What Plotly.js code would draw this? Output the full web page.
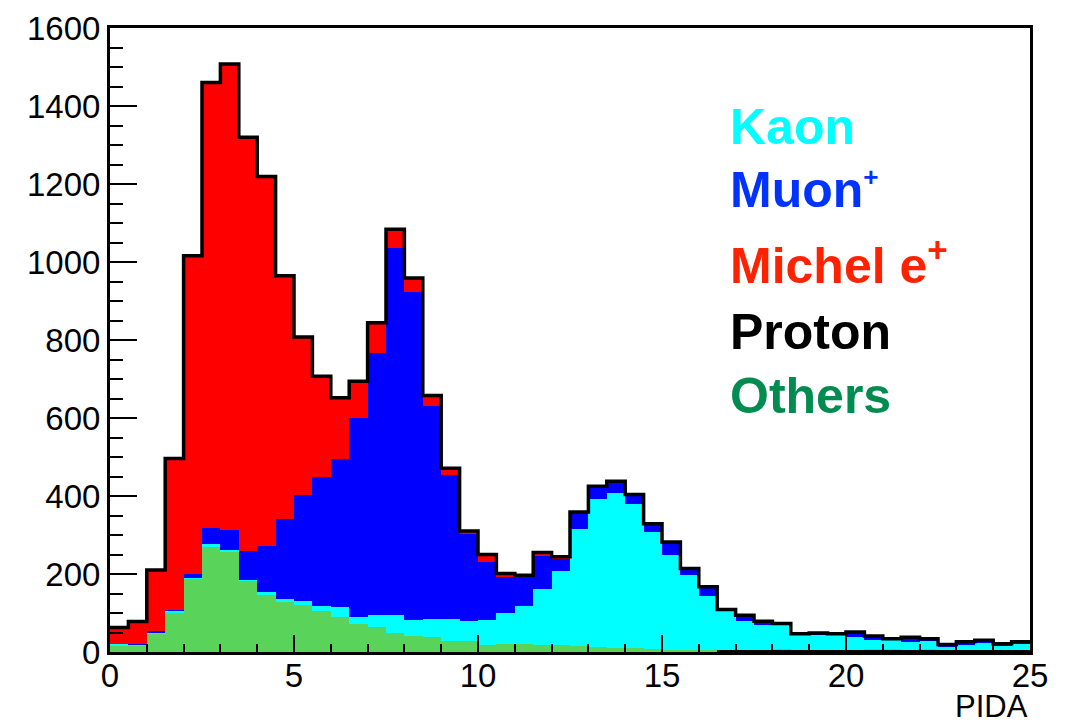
<!DOCTYPE html>
<html>
<head>
<meta charset="utf-8">
<script src="https://cdn.plot.ly/plotly-3.0.1.min.js"></script>
<style>html,body{margin:0;padding:0;background:#fff;}#chart{width:1065px;height:727px;}</style>
</head>
<body>
<div id="chart"></div>
<script>
// PIDA histogram: 50 bins of width 0.5 from 0 to 25
const binStart = 0;
const binWidth = 0.5;
const nBins = 50;

const proton = [0,0,0,0,0,0,0,0,0,0, 0,0,0,0,0,0,0,0,0,0, 0,0,0,0,0,1,1,1,1,1, 1,1,1,4,4,5,6,4,5,4, 5,6,6,5,6,4,5,5,4,5];
const others = [15,15,45,101,187,270,256,181,147,129, 121,104,91,73,63,50,42,38,28,27, 18,21,21,19,17,14,12,9,8,6, 5,4,4,2,2,1,1,1,1,1, 1,1,1,1,1,1,1,1,1,1];
const kaon   = [5,4,5,4,3,8,6,4,6,7, 9,13,24,18,31,45,41,46,57,52, 63,80,96,143,190,301,380,398,371,301, 244,192,138,99,73,62,61,38,38,39, 32,25,23,20,20,8,13,18,10,15];
const muon   = [1,1,4,3,10,39,51,74,119,204, 272,332,381,510,672,940,841,547,369,224, 150,91,78,83,32,40,30,26,22,20, 29,13,22,3,12,9,3,3,3,2, 11,7,3,10,5,4,5,4,4,3];
const michel = [42,58,156,388,816,1143,1195,1061,947,625, 406,258,156,93,78,49,35,27,17,7, 19,9,2,10,5,3,2,4,2,1, 3,4,2,1,3,2,2,1,2,1, 2,2,1,2,2,2,2,2,2,2];

const legendLabels = [
  "Kaon",
  "Muon<sup><span style=\"font-size:26px\">+</span></sup>",
  "Michel e<sup>+</sup>",
  "Proton",
  "Others"
];
const legendColors = ["#00ffff", "#0033ff", "#ff2200", "#000000", "#008c50"];

const centers = [];
const edges = [];
for (let i = 0; i < nBins; i++) centers.push(binStart + binWidth * (i + 0.5));
for (let i = 0; i <= nBins; i++) edges.push(binStart + binWidth * i);

const totals = centers.map((_, i) => proton[i] + others[i] + kaon[i] + muon[i] + michel[i]);
const outlineY = totals.concat([totals[totals.length - 1]]);

function barTrace(y, color) {
  return {type: 'bar', x: centers, y: y, width: binWidth,
          marker: {color: color, line: {width: 0}}, hoverinfo: 'skip', showlegend: false};
}

const data = [
  barTrace(proton, '#000000'),
  barTrace(others, '#5ad35a'),
  barTrace(kaon, '#00ffff'),
  barTrace(muon, '#0000ff'),
  barTrace(michel, '#ff0000'),
  {type: 'scatter', mode: 'lines', x: edges, y: outlineY,
   line: {shape: 'hv', color: '#000000', width: 3.5}, hoverinfo: 'skip', showlegend: false}
];

const tickFont = {family: 'Liberation Sans, Arial, sans-serif', size: 33, color: '#000'};

const legendY = [127, 190, 262, 332, 396];
const annotations = legendLabels.map((t, i) => ({
  text: '<b>' + t + '</b>', xref: 'paper', yref: 'paper',
  x: (728 - 110) / 920, y: 1 - (legendY[i] - 28) / 624,
  xanchor: 'left', yanchor: 'middle', showarrow: false,
  font: {family: 'Liberation Sans, Arial, sans-serif', size: 50, color: legendColors[i]}
}));
annotations.push({
  text: 'PIDA', xref: 'paper', yref: 'paper', x: 1.0, y: -0.088,
  xanchor: 'right', yanchor: 'middle', showarrow: false,
  font: {family: 'Liberation Sans, Arial, sans-serif', size: 31, color: '#000'}
});

const layout = {
  width: 1065, height: 727,
  margin: {l: 110, r: 35, t: 28, b: 75},
  paper_bgcolor: '#fff', plot_bgcolor: '#fff',
  barmode: 'stack', bargap: 0,
  showlegend: false,
  xaxis: {
    range: [0, 25], tickmode: 'linear', tick0: 0, dtick: 5,
    ticks: 'inside', ticklen: 17, tickwidth: 2, tickcolor: '#000',
    minor: {dtick: 1, ticks: 'inside', ticklen: 8, tickwidth: 2, tickcolor: '#000', showgrid: false},
    showline: true, linecolor: '#000', linewidth: 3, mirror: true,
    showgrid: false, zeroline: false, tickfont: tickFont, ticklabelstandoff: -8
  },
  yaxis: {
    range: [0, 1600], tickmode: 'linear', tick0: 0, dtick: 200,
    ticks: 'inside', ticklen: 27, tickwidth: 2, tickcolor: '#000',
    minor: {dtick: 50, ticks: 'inside', ticklen: 13, tickwidth: 2, tickcolor: '#000', showgrid: false},
    showline: true, linecolor: '#000', linewidth: 3, mirror: true,
    showgrid: false, zeroline: false, tickfont: tickFont
  },
  annotations: annotations
};

Plotly.newPlot('chart', data, layout, {displayModeBar: false, staticPlot: true});
</script>
</body>
</html>
